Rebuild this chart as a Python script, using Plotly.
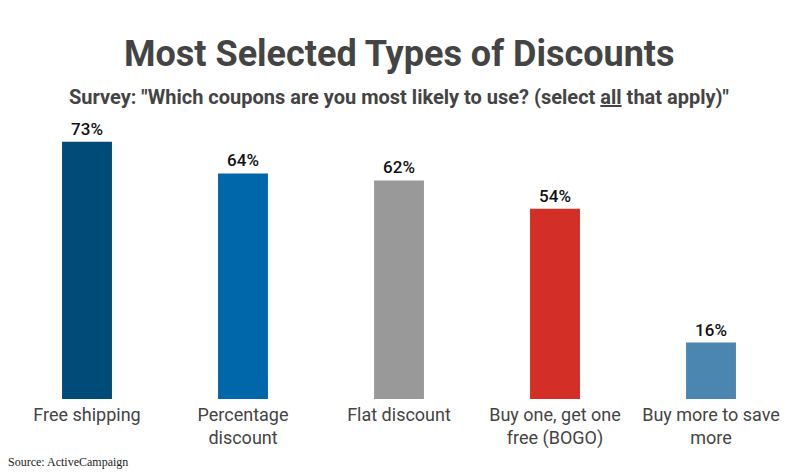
import plotly.graph_objects as go

# survey answers
categories = ["Free shipping", "Percentage<br>discount", "Flat discount",
              "Buy one, get one<br>free (BOGO)", "Buy more to save<br>more"]
shares = [73, 64, 62, 54, 16]
bar_colors = ["#004b78", "#0068aa", "#999999", "#d32f27", "#4a86b0"]
labels = [str(v) + "%" for v in shares]

fig = go.Figure()
fig.add_trace(go.Bar(
    x=categories, y=shares,
    marker=dict(color=bar_colors, line=dict(width=0)),
    width=0.32,
    text=labels, textposition="outside", cliponaxis=False,
    textfont=dict(family="Roboto", size=17, color="#111111", weight=500),
))

# page body has an 8px margin, so the margins are shifted to compensate
fig.update_layout(
    width=800, height=475,
    margin=dict(l=1, r=19, t=109, b=84, autoexpand=False),
    paper_bgcolor="white", plot_bgcolor="white",
    showlegend=False,
    font=dict(family="Roboto", color="#444444"),
)
fig.update_xaxes(showline=False, showgrid=False, ticks="", automargin=False,
                 ticklabelstandoff=3,
                 tickfont=dict(family="Roboto", size=18, color="#444444"))
fig.update_yaxes(range=[0, 80], visible=False, automargin=False)

# title block
fig.add_annotation(text="<b>Most Selected Types of Discounts</b>",
                   xref="paper", yref="paper", x=0.5, y=1, yanchor="middle", yshift=63,
                   showarrow=False, font=dict(family="Roboto", size=36, color="#444444"))
fig.add_annotation(text='<b>Survey: "Which coupons are you most likely to use? (select <u>all</u> that apply)"</b>',
                   xref="paper", yref="paper", x=0.5, y=1, yanchor="middle", yshift=20,
                   showarrow=False, font=dict(family="Roboto", size=20, color="#444444"))
fig.add_annotation(text="Source: ActiveCampaign", xref="paper", yref="paper",
                   x=0, xanchor="left", xshift=-3, y=0, yanchor="middle", yshift=-63,
                   showarrow=False, font=dict(family="Liberation Serif", size=12, color="#222222"))

fig.write_html("out.html")
